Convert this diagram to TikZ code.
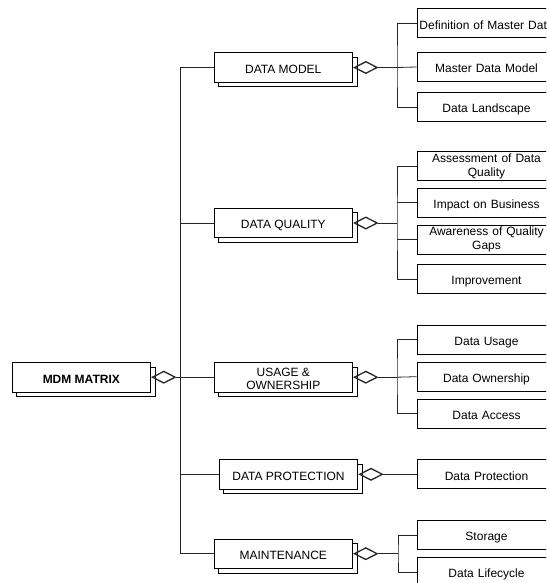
\documentclass[tikz,border=0pt]{standalone}
\usepackage{fontspec}
\setmainfont{Liberation Sans}
\usetikzlibrary{arrows.meta,shadows}
\begin{document}
\begin{tikzpicture}[x=1pt,y=-1pt,
  font=\fontsize{12}{13.5}\selectfont,
  oneline/.style={text height=11.8pt, text depth=0pt},
  twoline/.style={text height=25pt, text depth=0pt},
  mainbox/.style={draw, fill=white, line width=0.8pt, minimum width=138.7pt, minimum height=29.5pt,
    inner sep=0pt, align=center,
    copy shadow={draw, fill=white, line width=0.8pt, shadow xshift=4.5pt, shadow yshift=-4.5pt}},
  childbox/.style={draw, fill=white, line width=0.8pt, minimum width=139pt, minimum height=29pt,
    inner sep=0pt, text width=137pt, align=center},
  link/.style={line width=0.8pt, black!85},
  agg/.style={link, {Diamond[open, length=25.5pt, width=13pt, line width=1.3pt]}-}
]
\useasboundingbox (0,0) rectangle (546,583);
\clip (0,0) rectangle (546,583);

% main nodes
\node[mainbox, oneline] (mdm) at (81.3,377.2) {\bfseries MDM MATRIX};
\node[mainbox, oneline] (dm) at (283.3,67.5) {DATA MODEL};
\node[mainbox, oneline] (dq) at (283.3,223) {DATA QUALITY};
\node[mainbox, twoline] (uo) at (283.3,377.2) {USAGE \&\\OWNERSHIP};
\node[mainbox, oneline] (dp) at (288.5,474.3) {DATA PROTECTION};
\node[mainbox, oneline] (mt) at (283.3,553.7) {MAINTENANCE};

% children
\node[childbox, oneline] (def) at (486.5,23.3) {Definition of Master Data};
\node[childbox, oneline] (mdmod) at (486.5,67) {Master Data Model};
\node[childbox, oneline] (land) at (486.5,107) {Data Landscape};
\node[childbox] (assess) at (486.5,166.2) {Assessment of Data\\Quality};
\node[childbox, oneline] (impact) at (486.5,202.8) {Impact on Business};
\node[childbox] (aware) at (486.5,239.5) {Awareness of Quality\\Gaps};
\node[childbox, oneline] (impr) at (486.5,279) {Improvement};
\node[childbox, oneline] (usage) at (486.5,339.7) {Data Usage};
\node[childbox, oneline] (own) at (486.5,376.7) {Data Ownership};
\node[childbox, oneline] (access) at (486.5,413.8) {Data Access};
\node[childbox, oneline] (dprot) at (486.5,474.3) {Data Protection};
\node[childbox, oneline] (stor) at (486.5,535) {Storage};
\node[childbox, oneline] (life) at (486.5,572) {Data Lifecycle};

% main spine
\coordinate (sp) at (180,377.2);
\coordinate (spt) at (180,67.5);
\coordinate (spb) at (180,553.7);
\draw[agg] (mdm.east) -- (sp);
\draw[link] (spt) -- (spb);
\draw[link] (spt) -- (dm.west);
\draw[link] (180,223) -- (dq.west);
\draw[link] (sp) -- (uo.west);
\draw[link] (180,474.3) -- (dp.west);
\draw[link] (spb) -- (mt.west);

% DATA MODEL group
\coordinate (j1) at (397,67.5);
\draw[agg] (dm.east) -- (j1);
\draw[link] (def.west) -| (j1) |- (land.west);
\draw[link] (j1) -- (mdmod.west);

% DATA QUALITY group
\coordinate (j2) at (397,223);
\draw[agg] (dq.east) -- (j2);
\draw[link] (assess.west) -| (j2) |- (impr.west);
\draw[link] (397,202.8) -- (impact.west);
\draw[link] (397,239.5) -- (aware.west);

% USAGE & OWNERSHIP group
\coordinate (j3) at (397,377.2);
\draw[agg] (uo.east) -- (j3);
\draw[link] (usage.west) -| (j3) |- (access.west);
\draw[link] (j3) -- (own.west);

% DATA PROTECTION
\draw[agg] (dp.east) -- (dprot.west);

% MAINTENANCE group
\coordinate (j5) at (398,553.7);
\draw[agg] (mt.east) -- (j5);
\draw[link] (stor.west) -| (j5) |- (life.west);
\end{tikzpicture}
\end{document}
